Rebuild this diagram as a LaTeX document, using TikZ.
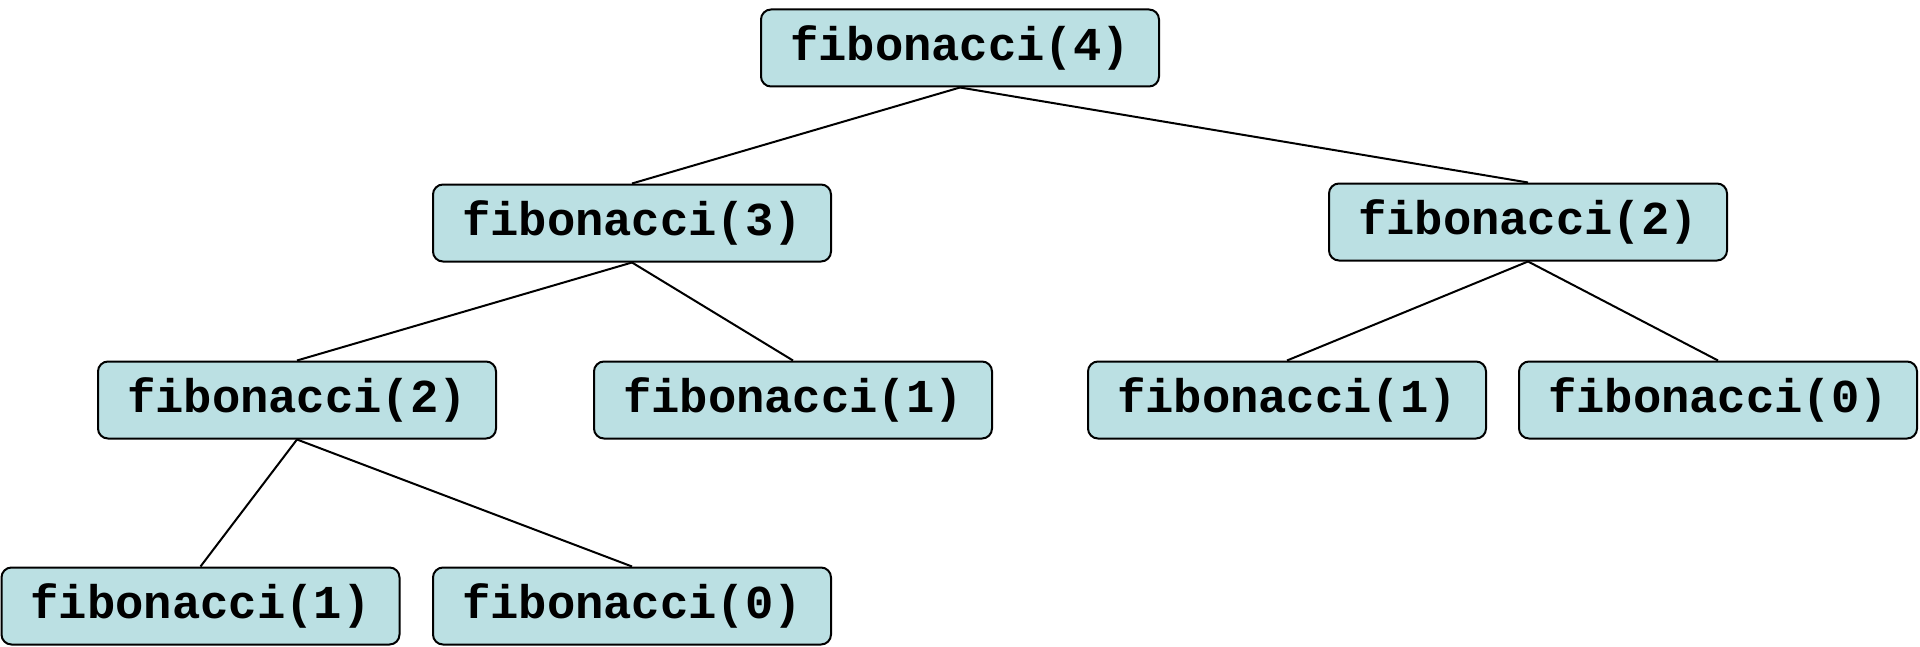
\documentclass[tikz,border=0pt]{standalone}
\usepackage{fontspec}
\setmonofont{Liberation Mono}
\definecolor{boxfill}{HTML}{BBE0E3}
\begin{document}
\begin{tikzpicture}[x=0.5pt,y=-0.5pt,
  fib/.style={draw=black, fill=boxfill, rounded corners=5pt, line width=1pt,
    minimum width=199pt, minimum height=38.5pt, inner sep=0pt,
    font=\ttfamily\bfseries\fontsize{23.6pt}{26pt}\selectfont},
  edge/.style={line width=1pt}]
\useasboundingbox (0,0) rectangle (1920,647);
\node[fib] (f4) at (960,48) {fibonacci(4)};
\node[fib] (f3) at (632,223) {fibonacci(3)};
\node[fib] (f2r) at (1528,222) {fibonacci(2)};
\node[fib] (f2l) at (297,400) {fibonacci(2)};
\node[fib] (f1a) at (793,400) {fibonacci(1)};
\node[fib] (f1b) at (1287,400) {fibonacci(1)};
\node[fib] (f0a) at (1718,400) {fibonacci(0)};
\node[fib] (f1c) at (200.5,606) {fibonacci(1)};
\node[fib] (f0b) at (632,606) {fibonacci(0)};
\draw[edge] (f4.south) -- (f3.north);
\draw[edge] (f4.south) -- (f2r.north);
\draw[edge] (f3.south) -- (f2l.north);
\draw[edge] (f3.south) -- (f1a.north);
\draw[edge] (f2r.south) -- (f1b.north);
\draw[edge] (f2r.south) -- (f0a.north);
\draw[edge] (f2l.south) -- (f1c.north);
\draw[edge] (f2l.south) -- (f0b.north);
\end{tikzpicture}
\end{document}
